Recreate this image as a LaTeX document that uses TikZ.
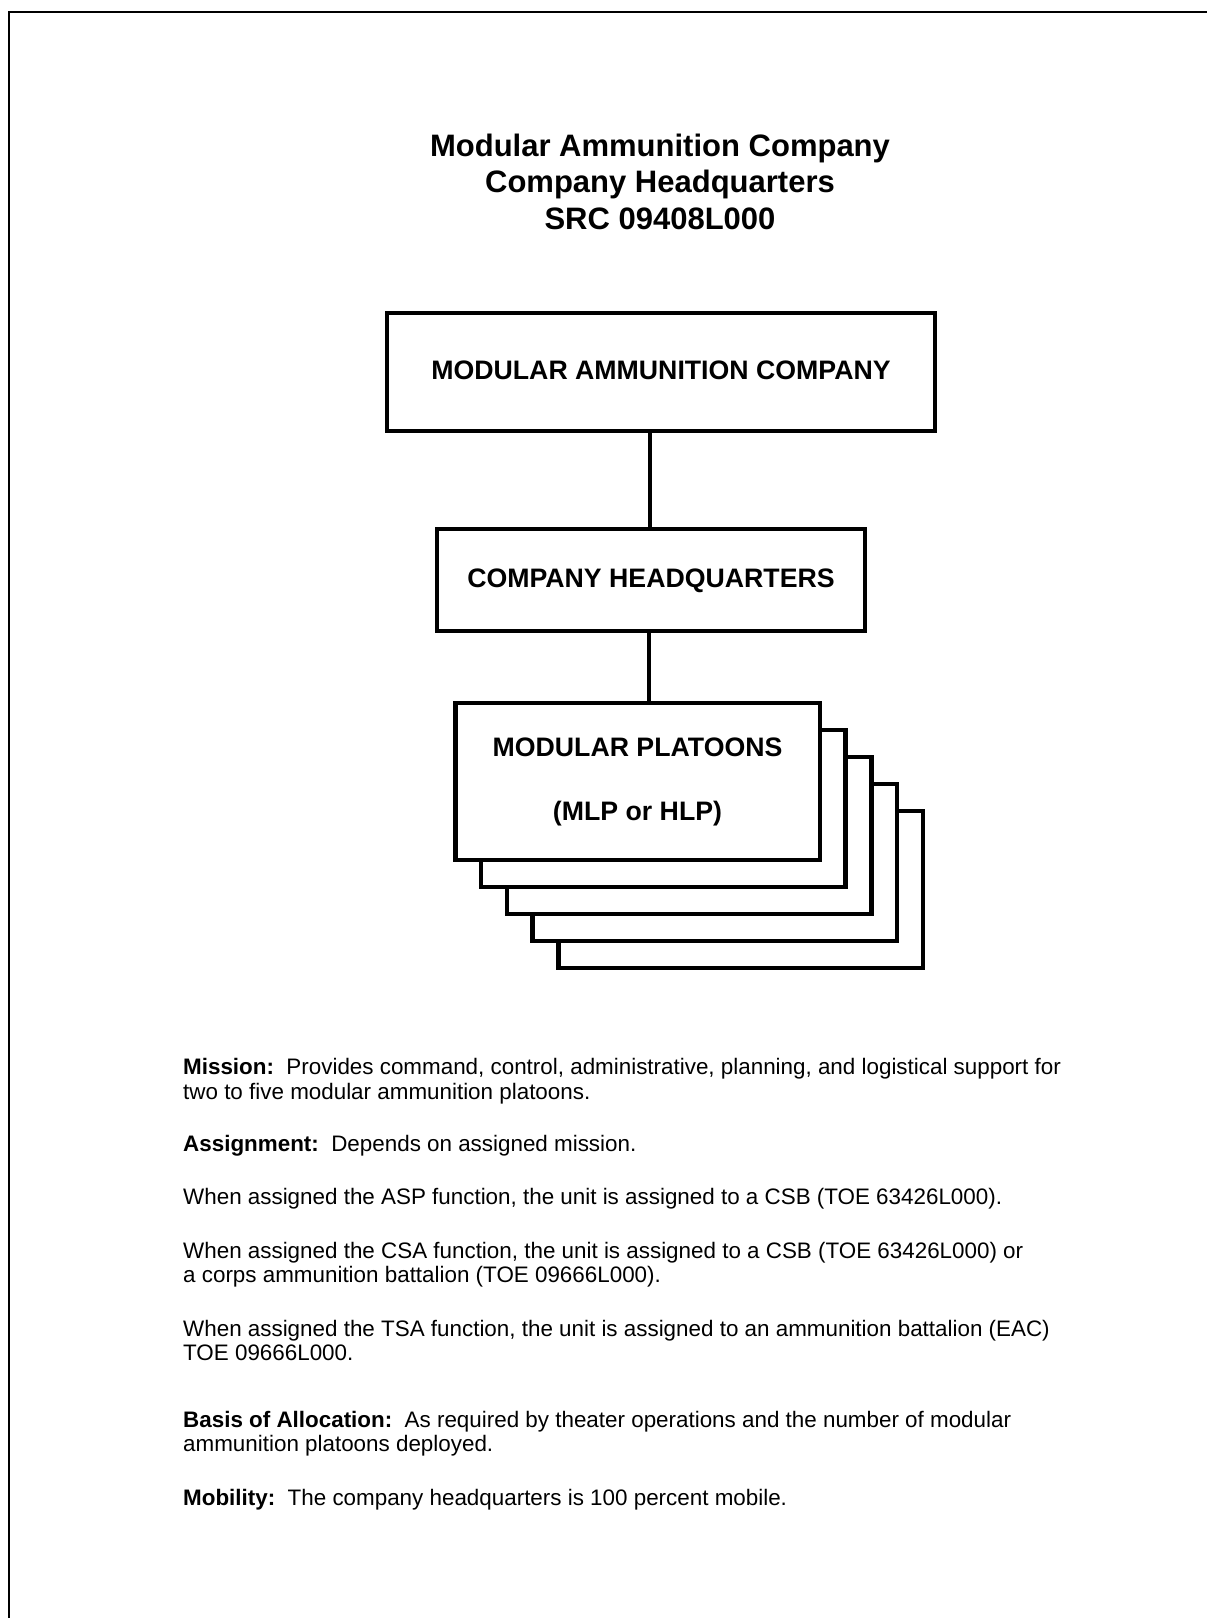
\documentclass[tikz,border=0pt]{standalone}
\usepackage{fontspec}
\setmainfont{Liberation Sans}
\begin{document}
\frenchspacing
\begin{tikzpicture}[x=1pt,y=-1pt,
  frame/.style={line width=2pt},
  orgbox/.style={draw, line width=4.5pt, fill=white, inner sep=0pt,
    font=\fontsize{26.7}{32}\selectfont\bfseries, text height=19.1pt, text depth=5.1pt},
  platoon/.style={draw, line width=4.5pt, fill=white, inner sep=0pt,
    minimum width=364.5pt, minimum height=157pt},
  link/.style={line width=4.5pt},
  headline/.style={anchor=base, inner sep=0pt, font=\fontsize{31}{37}\selectfont\bfseries},
  bodyline/.style={anchor=base west, inner sep=0pt, font=\fontsize{22.4}{26}\selectfont}]

\useasboundingbox (0,0) rectangle (1207,1618);

% page frame (top and left edges)
\draw[frame] (9,1625) -- (9,12.3) -- (1215,12.3);

% heading
\node[headline] (title1) at (660,156)   {Modular Ammunition Company};
\node[headline] (title2) at (660,192.5) {Company Headquarters};
\node[headline] (title3) at (660,229.5) {SRC 09408L000};

% organisation boxes
\node[orgbox, minimum width=548pt, minimum height=118pt] (company) at (661,372)
  {MODULAR AMMUNITION COMPANY};
\node[orgbox, minimum width=428pt, minimum height=102pt] (hq) at (651,580)
  {COMPANY HEADQUARTERS};

% stacked platoon boxes, back to front
\foreach \k in {4,3,2,1}
  \node[platoon] (plt\k) at ({637.5+25.8*\k},{781.5+27*\k}) {};
\node[platoon, align=center, font=\fontsize{26.7}{64}\selectfont\bfseries] (plt0)
  at (637.5,781.5) {MODULAR PLATOONS\\(MLP or HLP)};

% connectors
\coordinate (spineA) at (650,0);
\coordinate (spineB) at (649,0);
\draw[link] (company.south -| spineA) -- (hq.north -| spineA);
\draw[link] (hq.south -| spineB) -- (plt0.north -| spineB);

% description
\node[bodyline] (mis1) at (183,1074) {\textbf{Mission:}~~Provides command, control, administrative, planning, and logistical support for};
\node[bodyline] (mis2) at (183,1099) {two to five modular ammunition platoons.};
\node[bodyline] (asg)  at (183,1151) {\textbf{Assignment:}~~Depends on assigned mission.};
\node[bodyline] (asp)  at (183,1204) {When assigned the ASP function, the unit is assigned to a CSB (TOE 63426L000).};
\node[bodyline] (csa1) at (183,1258) {When assigned the CSA function, the unit is assigned to a CSB (TOE 63426L000) or};
\node[bodyline] (csa2) at (183,1282) {a corps ammunition battalion (TOE 09666L000).};
\node[bodyline] (tsa1) at (183,1336) {When assigned the TSA function, the unit is assigned to an ammunition battalion (EAC)};
\node[bodyline] (tsa2) at (183,1360) {TOE 09666L000.};
\node[bodyline] (boa1) at (183,1427) {\textbf{Basis of Allocation:}~~As required by theater operations and the number of modular};
\node[bodyline] (boa2) at (183,1451) {ammunition platoons deployed.};
\node[bodyline] (mob)  at (183,1505) {\textbf{Mobility:}~~The company headquarters is 100 percent mobile.};
\end{tikzpicture}
\end{document}
